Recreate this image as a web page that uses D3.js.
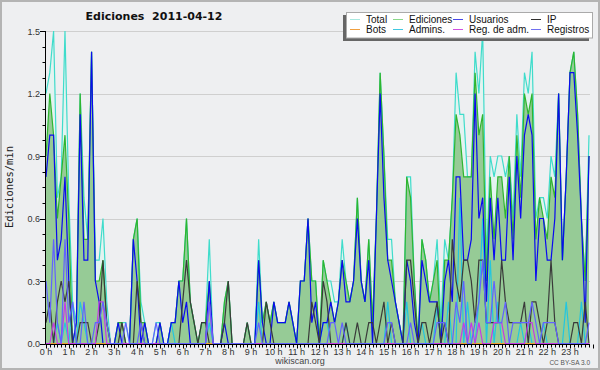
<!DOCTYPE html>
<html><head><meta charset="utf-8">
<script src="https://cdn.jsdelivr.net/npm/d3@7"></script>
<style>body{margin:0;background:#fff}svg{display:block}</style>
</head><body>
<svg id="c" width="600" height="370"></svg>
<script>
const title = "Ediciones  2011-04-12";
const yLabel = "Ediciones/min";
const hourLabels = ["0 h","1 h","2 h","3 h","4 h","5 h","6 h","7 h","8 h","9 h","10 h","11 h","12 h","13 h","14 h","15 h","16 h","17 h","18 h","19 h","20 h","21 h","22 h","23 h"];
const yTicks = [0, 0.3, 0.6, 0.9, 1.2, 1.5];
const yTickLabels = ["0.0","0.3","0.6","0.9","1.2","1.5"];
const legendNames = ["Total","Ediciones","Usuarios","IP","Bots","Admins.","Reg. de adm.","Registros"];

// values per 10-minute slot (edits per minute), 144 slots
const total = [
1.2,1.3,1.5,0.7,0.8,1.5, 0.7,0.2,0.1,1.2,0.7,0.5, 1.4,0.4,0.4,0.6,0.2,0, 0,0.1,0.1,0.1,0,0.5,
0.6,0.2,0.1,0,0,0.1, 0.1,0,0,0.1,0.1,0.3, 0.3,0.6,0.2,0.1,0,0.1, 0.1,0.5,0,0,0,0.2,
0.3,0,0,0,0,0.1, 0,0,0.5,0.1,0.2,0.1, 0.2,0.1,0.1,0.1,0.2,0.1, 0,0.3,0.3,0.6,0.3,0.3,
0,0.4,0.3,0.3,0.2,0.2, 0.5,0.3,0.2,0.3,0.7,0.3, 0.2,0.5,0.1,0.6,1.3,0.9, 0.5,0.5,0.2,0.1,0,0.8,
0.8,0.3,0,0.5,0.4,0.2, 0.3,0.5,0.1,0.5,0.4,0.7, 1.3,1.1,1.1,0.8,0.8,1.4, 1.2,1.5,0.4,0.9,0.8,0.9,
0.9,0.8,0.9,0.6,1.1,0.8, 1.3,1.2,1.4,0.6,0.7,0.7, 0.6,0.9,0.8,1.2,0.4,0.8, 1.3,1.4,1.1,0.6,0.3,1.0];
const ediciones = [
0.9,1.2,1.0,0.6,0.8,1.0, 0.6,0,0.1,1.2,0.5,0.5, 1.4,0.3,0.3,0.4,0.1,0, 0,0.1,0.1,0,0,0.5,
0.6,0.1,0.1,0,0,0, 0.1,0,0,0.1,0.1,0.3, 0.3,0.6,0.2,0.1,0,0.1, 0.1,0.3,0,0,0,0.2,
0.3,0,0,0,0,0.1, 0,0,0.4,0.1,0.2,0.1, 0.2,0.1,0.1,0.1,0.2,0.1, 0,0.3,0.3,0.6,0.3,0.3,
0,0.4,0.3,0.2,0.1,0.2, 0.4,0.3,0.2,0.3,0.7,0.3, 0.2,0.5,0.1,0.6,1.3,0.9, 0.4,0.4,0.2,0.1,0,0.8,
0.7,0.3,0,0.5,0.4,0.2, 0.3,0.4,0,0.4,0.4,0.7, 1.1,1.0,0.8,0.8,0.8,1.3, 1.0,1.1,0.3,0.8,0.5,0.8,
0.8,0.6,0.9,0.5,1.0,0.7, 1.2,1.1,1.2,0.5,0.7,0.6, 0.5,0.8,0.7,1.2,0.4,0.8, 1.3,1.4,1.1,0.6,0.3,0.9];
const usuarios = [
0.8,1.0,1.0,0.4,0.5,0.8, 0.3,0,0.1,1.1,0.4,0.4, 1.4,0.3,0.2,0,0,0, 0,0.1,0,0,0,0.5,
0.3,0,0.1,0,0,0, 0.1,0,0,0.1,0.1,0.3, 0.1,0.2,0,0,0,0, 0,0.3,0,0,0,0.1,
0,0,0,0,0,0, 0,0,0.4,0.1,0,0, 0.2,0.1,0.1,0.1,0.2,0.1, 0,0.3,0.3,0.6,0.1,0.2,
0,0.1,0.1,0.2,0.1,0.2, 0.4,0.2,0.2,0.3,0.6,0.3, 0.2,0.4,0,0.6,1.2,0.7, 0.4,0.3,0.2,0.1,0,0.4,
0.3,0.1,0,0.4,0.3,0.2, 0.2,0.2,0,0.3,0.4,0.2, 0.8,0.8,0.4,0.4,0.5,1.2, 0.6,0.7,0.2,0.7,0.4,0.7,
0.4,0.4,0.8,0.4,0.9,0.6, 1.0,1.1,1.0,0.3,0.6,0.6, 0.4,0.4,0.6,1.2,0.4,0.8, 1.3,1.3,1.0,0.6,0.1,0.9];
const ip = [
0.1,0.2,0,0.2,0.3,0.2, 0.3,0,0,0.1,0.1,0.1, 0,0,0.1,0.4,0.1,0, 0,0,0.1,0,0,0,
0.3,0.1,0,0,0,0, 0,0,0,0,0,0, 0.2,0.4,0.2,0.1,0,0.1, 0.1,0,0,0,0,0.1,
0.3,0,0,0,0,0.1, 0,0,0,0,0.2,0.1, 0,0,0,0,0,0, 0,0,0,0,0.2,0.1,
0,0.3,0.2,0,0,0, 0,0.1,0,0,0.1,0, 0,0.1,0.1,0,0.1,0.2, 0,0.1,0,0,0,0.4,
0.4,0.2,0,0.1,0.1,0, 0.1,0.2,0,0.1,0,0.5, 0.3,0.2,0.4,0.4,0.3,0.1, 0.4,0.4,0.1,0.1,0.1,0.1,
0.4,0.2,0.1,0.1,0.1,0.1, 0.2,0,0.2,0.2,0.1,0, 0.1,0.4,0.1,0,0,0, 0,0.1,0.1,0,0.2,0];
const bots = [
0,0,0,0,0,0, 0,0,0,0,0,0, 0,0,0,0,0,0, 0,0,0,0,0,0,
0,0,0,0,0,0, 0,0,0,0,0,0, 0,0,0,0,0,0, 0,0,0,0,0,0,
0,0,0,0,0,0, 0,0,0,0,0,0, 0,0,0,0,0,0, 0,0,0,0,0,0,
0,0,0,0,0,0, 0,0,0,0,0,0, 0,0,0,0,0,0, 0,0,0,0,0,0,
0,0,0,0,0,0, 0,0,0,0,0,0, 0,0,0,0,0,0, 0,0,0,0,0,0,
0,0,0,0,0,0, 0,0,0,0,0,0, 0,0,0,0,0,0, 0,0,0,0,0,0];
const admins = [
0,0,0,0.1,0,0.1, 0,0.2,0,0.2,0.1,0, 0,0,0,0,0,0, 0,0,0,0,0,0,
0,0,0,0,0,0, 0,0,0,0.1,0,0, 0,0,0,0,0,0, 0,0.1,0,0,0,0,
0,0,0,0,0,0, 0,0,0.2,0,0,0, 0,0,0,0,0,0, 0,0,0,0,0,0,
0,0.1,0.1,0,0,0, 0,0.1,0,0,0,0, 0,0,0,0,0,0, 0.2,0,0,0,0,0.2,
0,0,0,0.1,0,0, 0,0.2,0,0,0.2,0, 0,0.7,0,0.2,0,0, 0.2,0.6,0,0.4,0,0.2,
0,0,0,0,0,0.1, 0,0.1,0,0,0,0.1, 0,0,0,0,0,0.2, 0,0,0,0.2,0,0];
const regAdm = [
0,0,0.1,0,0,0.2, 0,0,0,0,0,0, 0,0,0.2,0.2,0,0, 0,0,0,0,0,0,
0,0,0,0,0,0, 0,0,0,0,0,0, 0,0,0,0,0,0, 0,0.2,0,0,0,0,
0,0,0,0,0,0, 0,0,0,0,0,0, 0,0,0,0,0,0, 0,0,0,0,0,0,
0,0,0,0,0,0, 0,0,0,0,0,0, 0,0,0,0,0,0, 0,0,0,0,0,0,
0,0,0,0,0,0, 0,0,0,0,0,0, 0,0,0.1,0,0.1,0, 0.1,0,0,0,0.1,0.1,
0.1,0,0,0,0,0, 0,0.1,0.1,0,0,0, 0,0,0,0,0,0, 0,0,0,0,0,0];
const registros = [
0.3,0.1,0.5,0.1,0,0.5, 0.1,0.2,0,0,0.2,0, 0,0.1,0.1,0.2,0.1,0, 0,0,0,0.1,0,0,
0,0.1,0,0,0,0.1, 0,0,0,0,0,0, 0,0,0,0,0,0, 0,0.2,0,0,0,0,
0,0,0,0,0,0, 0,0,0.1,0,0,0, 0,0,0,0,0,0, 0,0,0,0,0,0,
0,0,0,0.1,0.1,0, 0.1,0,0,0,0,0, 0,0,0,0,0,0, 0.1,0.1,0,0,0,0,
0.1,0,0,0,0,0, 0,0.1,0.1,0.1,0,0, 0.2,0.1,0.3,0,0,0.1, 0.2,0.4,0.1,0.1,0.3,0.1,
0.1,0.2,0,0.1,0.1,0.1, 0.1,0.1,0.2,0.1,0,0.1, 0.1,0.1,0.1,0,0,0, 0,0,0,0,0,0.1];

const colors = {
  total:"#3fdccb", ediciones:"#2fb52f", usuarios:"#0a0af0", ip:"#3a3a3a",
  bots:"#f0a030", admins:"#22c6e0", regAdm:"#c63ae6", registros:"#6262ff"
};
const legendColors = ["#a8e8e0","#8ad88a","#4848e8","#303030","#f0a040","#40c8e0","#d050e0","#7070f0"];

const svg = d3.select("#c");
const W = 600, H = 370;
const x = d3.scaleLinear().domain([0, 143]).range([46, 589]);
const y = d3.scaleLinear().domain([0, 1.5]).range([343.5, 31]);

svg.append("rect").attr("x",1).attr("y",1).attr("width",W-2).attr("height",H-2)
  .attr("fill","#eeeff1").attr("stroke","#b4b4b4").attr("stroke-width",2);

// grid
svg.append("g").selectAll("line").data(yTicks.slice(1)).join("line")
  .attr("x1",46).attr("x2",590).attr("y1",d=>Math.round(y(d))+0.5).attr("y2",d=>Math.round(y(d))+0.5)
  .attr("stroke","#cfcfcf").attr("stroke-width",1);

const idx = d3.range(144);
const line = arr => d3.line().x(i=>x(i)).y(i=>y(arr[i]))(idx);
const area = arr => d3.area().x(i=>x(i)).y0(y(0)).y1(i=>y(arr[i]))(idx);

svg.append("path").attr("d", area(total)).attr("fill","#e3f3f0");
svg.append("path").attr("d", area(ediciones)).attr("fill","#96cb96");

const series = [
  [total, colors.total], [ediciones, colors.ediciones], [admins, colors.admins],
  [usuarios, colors.usuarios], [ip, colors.ip], [bots, colors.bots],
  [regAdm, colors.regAdm], [registros, colors.registros]
];
series.forEach(([arr,c]) => {
  svg.append("path").attr("d", line(arr)).attr("fill","none").attr("stroke",c)
    .attr("stroke-width",1.2).attr("stroke-linejoin","miter");
});

// axes
const ax = svg.append("g").attr("stroke","#000").attr("stroke-width",1);
ax.append("line").attr("x1",45.5).attr("x2",45.5).attr("y1",31).attr("y2",344.5);
ax.append("line").attr("x1",45.5).attr("x2",590).attr("y1",344.5).attr("y2",344.5);
d3.range(0, 21).forEach(k => {
  const v = k*0.075, yy = Math.round(y(v))+0.5;
  const major = k % 4 === 0;
  ax.append("line").attr("x1", major ? 40 : 42.5).attr("x2",45.5).attr("y1",yy).attr("y2",yy);
});
idx.concat([144]).forEach(i => {
  const xx = Math.round(46 + i*(543/143))+0.5;
  ax.append("line").attr("x1",xx).attr("x2",xx).attr("y1",344.5).attr("y2", i%6===0 ? 348.5 : 347.5);
});

const tf = "'Liberation Sans', Arial, sans-serif";
svg.append("g").selectAll("text").data(yTicks).join("text")
  .attr("x",40).attr("y",(d)=>y(d)+3.5).attr("text-anchor","end")
  .attr("font-family",tf).attr("font-size",9).attr("fill","#333")
  .text((d,i)=>yTickLabels[i]);
svg.append("g").selectAll("text").data(hourLabels).join("text")
  .attr("x",(d,i)=>x(i*6)).attr("y",355).attr("text-anchor","middle")
  .attr("font-family",tf).attr("font-size",9).attr("fill","#333")
  .text(d=>d);

svg.append("text").attr("x",154).attr("y",20).attr("text-anchor","middle")
  .style("white-space","pre")
  .attr("font-family","'DejaVu Sans', sans-serif").attr("font-weight","bold").attr("font-size",11)
  .attr("fill","#111").text(title);
svg.append("text").attr("transform","translate(13,187) rotate(-90)").attr("text-anchor","middle")
  .attr("font-family","'DejaVu Sans Mono', monospace").attr("font-size",10.5).attr("fill","#222")
  .text(yLabel);
svg.append("text").attr("x",300).attr("y",364).attr("text-anchor","middle")
  .attr("font-family",tf).attr("font-size",9).attr("fill","#444").text("wikiscan.org");
svg.append("text").attr("x",590).attr("y",365).attr("text-anchor","end")
  .attr("font-family",tf).attr("font-size",6.5).attr("fill","#555").text("CC BY-SA 3.0");

// legend
const lg = svg.append("g");
lg.append("rect").attr("x",343).attr("y",15).attr("width",246).attr("height",26).attr("fill","#666");
lg.append("rect").attr("x",346.5).attr("y",12.5).attr("width",246).attr("height",25.5)
  .attr("fill","#fff").attr("stroke","#aaa");
const colX = [350, 393, 453, 531];
legendNames.forEach((n,i) => {
  const col = i % 4, row = Math.floor(i/4);
  const yy = 19.5 + row*10;
  lg.append("line").attr("x1",colX[col]).attr("x2",colX[col]+10).attr("y1",yy).attr("y2",yy)
    .attr("stroke",legendColors[i]).attr("stroke-width",1);
  lg.append("text").attr("x",colX[col]+16).attr("y",yy+3.5)
    .attr("font-family",tf).attr("font-size",10).attr("fill","#111").text(n);
});
</script>
</body></html>
